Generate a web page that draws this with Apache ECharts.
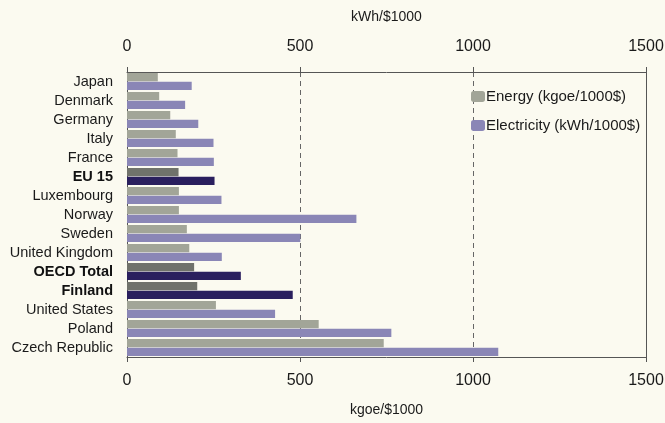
<!DOCTYPE html>
<html><head><meta charset="utf-8">
<script src="https://cdn.jsdelivr.net/npm/echarts@6/dist/echarts.min.js"></script>
<style>html,body{margin:0;padding:0;background:#fbfaf0;}#c{width:665px;height:423px;}</style>
</head><body><div id="c"></div>
<script>
const categories = ['Japan','Denmark','Germany','Italy','France','EU 15','Luxembourg','Norway','Sweden','United Kingdom','OECD Total','Finland','United States','Poland','Czech Republic'];
const highlighted = ['EU 15','OECD Total','Finland'];
const energyValues = [89,93,125,141,146,149,150,150,173,180,194,203,257,554,742];
const electricityValues = [187,168,206,250,251,253,273,663,501,274,329,479,428,764,1073];
const tickValues = [0,500,1000,1500];

const FONT = '"Liberation Sans",Arial,sans-serif';
const energyColor = '#a2a598', energyDark = '#70726b';
const elecColor = '#8a86b6', elecDark = '#2a1f5e';

const energyData = energyValues.map((v,i)=>({value:v,itemStyle:{color: highlighted.includes(categories[i])?energyDark:energyColor}}));
const elecData = electricityValues.map((v,i)=>({value:v,itemStyle:{color: highlighted.includes(categories[i])?elecDark:elecColor}}));

const chart = echarts.init(document.getElementById('c'));
const xBase = {
  type:'value', min:tickValues[0], max:tickValues[tickValues.length-1], interval:tickValues[1]-tickValues[0],
  axisLine:{show:true,lineStyle:{color:'#555',width:1}},
  axisTick:{show:true,length:5,lineStyle:{color:'#555'}},
  axisLabel:{color:'#1a1a1a',fontSize:16,fontFamily:FONT,formatter:v=>String(v)},
  nameLocation:'middle',
  nameTextStyle:{color:'#1a1a1a',fontSize:14,fontFamily:FONT}
};
chart.setOption({
  backgroundColor:'#fbfaf0',
  animation:false,
  grid:{left:127,right:19,top:72,bottom:66,containLabel:false,outerBoundsMode:'none',show:false},
  legend:{
    orient:'vertical', left:466, top:84, itemWidth:14, itemHeight:11, itemGap:14,
    textStyle:{color:'#1a1a1a',fontSize:15,fontFamily:FONT,padding:[0,0,0,-4]},
    data:[{name:'Energy (kgoe/1000$)',itemStyle:{color:energyColor}},{name:'Electricity (kWh/1000$)',itemStyle:{color:elecColor}}]
  },
  xAxis:[
    Object.assign({},xBase,{position:'top',name:'kWh/$1000',nameGap:48,
      axisLabel:Object.assign({},xBase.axisLabel,{margin:17}),
      splitLine:{show:true,lineStyle:{color:'#666',type:[5,4],width:1}}}),
    Object.assign({},xBase,{position:'bottom',name:'kgoe/$1000',nameGap:46,
      axisLabel:Object.assign({},xBase.axisLabel,{margin:16}),
      splitLine:{show:false}})
  ],
  yAxis:{
    type:'category', data:categories, inverse:true,
    axisLine:{show:true,lineStyle:{color:'#555'}},
    axisTick:{show:false},
    axisLabel:{interval:0,fontSize:14.5,fontFamily:FONT,color:'#1a1a1a',margin:14,
      formatter:v=>highlighted.includes(v)?'{b|'+v+'}':v,
      rich:{b:{fontWeight:'bold',fontSize:14.5,fontFamily:FONT,color:'#111'}}}
  },
  series:[
    {name:'Energy (kgoe/1000$)',type:'bar',xAxisIndex:1,data:energyData,barCategoryGap:'10%',barGap:'4%'},
    {name:'Electricity (kWh/1000$)',type:'bar',xAxisIndex:0,data:elecData,barCategoryGap:'10%',barGap:'4%'},
    {type:'line',xAxisIndex:0,data:[],markLine:{silent:true,symbol:'none',label:{show:false},
      lineStyle:{color:'#555',type:'solid',width:1},data:[{xAxis:1500}]}}
  ]
});
</script></body></html>
